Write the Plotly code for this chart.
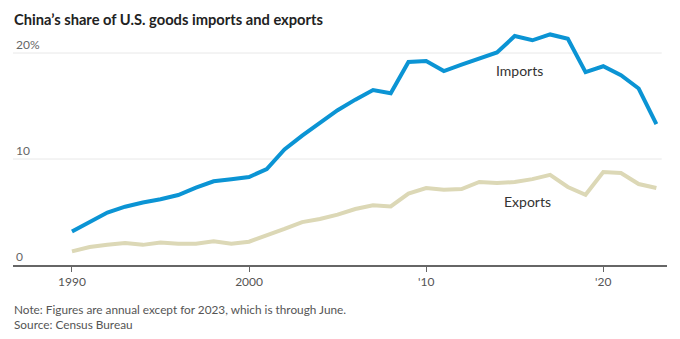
import plotly.graph_objects as go

years = list(range(1990, 2024))
imports = [3.15, 4.05, 4.95, 5.5, 5.9, 6.2, 6.6, 7.3, 7.9, 8.1, 8.3, 9.05, 10.9, 12.2,
           13.45, 14.6, 15.6, 16.5, 16.2, 19.15, 19.25, 18.3, 18.9, 19.5, 20.05, 21.6,
           21.2, 21.75, 21.35, 18.2, 18.75, 17.9, 16.65, 13.3]
exports = [1.28, 1.7, 1.9, 2.07, 1.9, 2.13, 2.0, 2.0, 2.23, 2.0, 2.2, 2.76, 3.4, 4.05,
           4.34, 4.75, 5.28, 5.63, 5.53, 6.73, 7.26, 7.1, 7.17, 7.83, 7.73, 7.83,
           8.1, 8.5, 7.36, 6.63, 8.77, 8.68, 7.64, 7.26]

x_tickvals = [1990, 2000, 2010, 2020]
x_ticktext = ["1990", "2000", "'10", "'20"]
y_tickvals = [0, 10, 20]
y_ticktext = ["0", "10", "20%"]

title = "China’s share of U.S. goods imports and exports"
note = "Note: Figures are annual except for 2023, which is through June."
source = "Source: Census Bureau"

FONT = "Lato"
xmin, xmax = 1986.67, 2023.6
W, H = 680, 339
ML, MR, MT, MB = 13, 13, 32, 74
pw, ph = W - ML - MR, H - MT - MB


def px(xp):
    return (xp - ML) / pw


def py(yp):
    return (H - MB - yp) / ph


fig = go.Figure()
fig.add_trace(go.Scatter(x=years, y=exports, mode="lines",
                         line=dict(color="#dcd8b6", width=4), hoverinfo="skip"))
fig.add_trace(go.Scatter(x=years, y=imports, mode="lines",
                         line=dict(color="#0b94d4", width=4), hoverinfo="skip"))

for v in [10, 20]:
    fig.add_shape(type="line", xref="x", yref="y", x0=xmin, x1=2023.3, y0=v, y1=v,
                  line=dict(color="#e8e8e8", width=1), layer="below")

fig.add_annotation(x=2015.25, y=18.35, xref="x", yref="y", text="Imports", showarrow=False,
                   font=dict(family=FONT, size=14, color="#333"))
fig.add_annotation(x=2015.7, y=6.0, xref="x", yref="y", text="Exports", showarrow=False,
                   font=dict(family=FONT, size=14, color="#333"))

fig.add_annotation(x=px(12), y=py(19), xref="paper", yref="paper",
                   text="<b>" + title + "</b>", showarrow=False,
                   xanchor="left", yanchor="middle",
                   font=dict(family=FONT, size=14.7, color="#222"))
fig.add_annotation(x=px(12), y=py(309), xref="paper", yref="paper", text=note,
                   showarrow=False, xanchor="left", yanchor="middle",
                   font=dict(family=FONT, size=11.8, color="#555"))
fig.add_annotation(x=px(12), y=py(325), xref="paper", yref="paper", text=source,
                   showarrow=False, xanchor="left", yanchor="middle",
                   font=dict(family=FONT, size=11.8, color="#555"))

fig.update_layout(
    width=W, height=H,
    margin=dict(l=ML, r=MR, t=MT, b=MB),
    paper_bgcolor="white", plot_bgcolor="white",
    showlegend=False,
    font=dict(family=FONT, size=12, color="#555"),
    xaxis=dict(range=[xmin, xmax], tickvals=x_tickvals, ticktext=x_ticktext,
               showgrid=False, zeroline=False, showline=True, linecolor="#666",
               linewidth=1.5, ticks="outside", ticklen=5, tickcolor="#666",
               tickfont=dict(family=FONT, size=12, color="#555")),
    yaxis=dict(range=[0, ph / 10.6], tickvals=y_tickvals, ticktext=y_ticktext,
               showgrid=False, zeroline=False, showline=False,
               ticklabelposition="inside top", ticks="",
               tickfont=dict(family=FONT, size=12, color="#666")),
)

fig.write_html("out.html")
